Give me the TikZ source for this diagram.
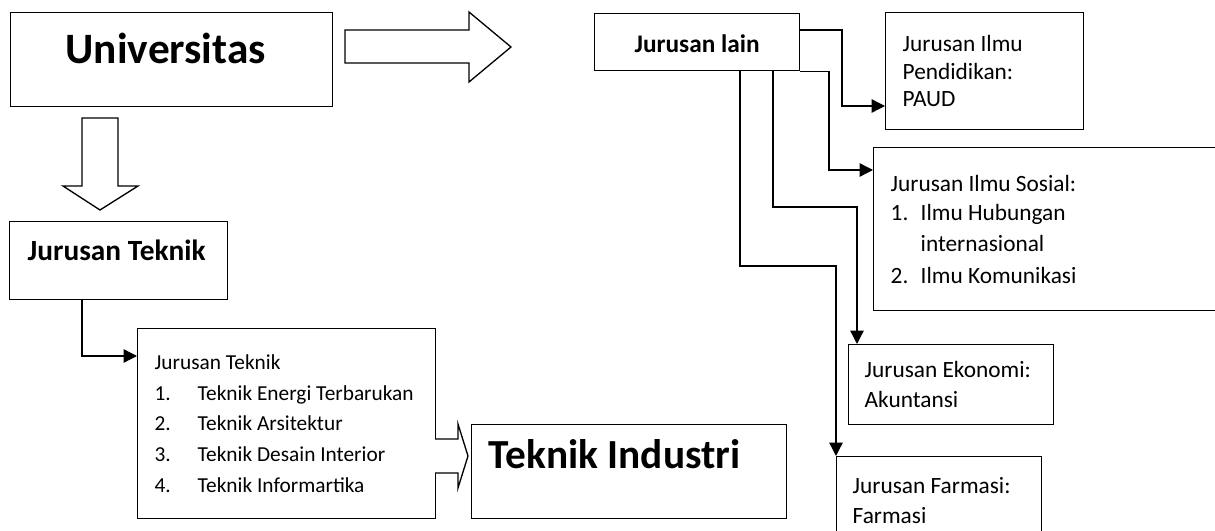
\documentclass[tikz,border=0pt]{standalone}
\usepackage{fontspec}
\setmainfont{Carlito}
\usetikzlibrary{arrows.meta,positioning}

\begin{document}
\begin{tikzpicture}[
  x=0.75pt, y=-0.75pt,
  box/.style={draw, line width=1pt, anchor=north west, inner sep=0pt, align=flush left},
  txt/.style={font=\fontsize{17.5}{20.6}\selectfont},
  arr/.style={-{Triangle[length=10pt,width=10pt]}, line width=1pt},
  blockarr/.style={draw, line width=1pt, fill=white, line join=miter}
]
  \useasboundingbox (0,0) rectangle (1215,531);

  % left side
  \node[box, minimum width=241.5pt, minimum height=70.5pt, inner xsep=41.25pt, text width=159pt,
        text height=24pt, text depth=18pt, font=\fontsize{32.5}{36}\selectfont\bfseries] (uni) at (10,12) {Universitas};
  \node[box, minimum width=163.5pt, minimum height=58.5pt, inner xsep=13.5pt, text width=136.5pt,
        text height=15pt, text depth=15pt, font=\fontsize{22}{26}\selectfont\bfseries] (teknik) at (9,221) {Jurusan Teknik};
  \node[box, minimum width=223.5pt, minimum height=142.5pt, inner xsep=12.75pt, text width=198pt,
        font=\fontsize{16}{23}\selectfont] (list) at (137,328)
    {Jurusan Teknik\\
     \makebox[32.25pt][l]{1.}Teknik Energi Terbarukan\\
     \makebox[32.25pt][l]{2.}Teknik Arsitektur\\
     \makebox[32.25pt][l]{3.}Teknik Desain Interior\\
     \makebox[32.25pt][l]{4.}Teknik Informartika};
  \node[box, minimum width=236.25pt, minimum height=70.5pt, inner xsep=12.75pt, text width=210.75pt,
        text height=15pt, text depth=19.5pt, font=\fontsize{31}{36}\selectfont\bfseries] (industri) at (471,424) {Teknik Industri};

  % right side
  \node[box, minimum width=153.75pt, minimum height=42.75pt, align=center,
        text height=15.5pt, text depth=0pt, font=\fontsize{19}{22}\selectfont\bfseries] (lain) at (594,13) {Jurusan lain};
  \node[box, txt, minimum width=148.5pt, minimum height=87.75pt, inner xsep=12.75pt, text width=123pt] (paud) at (885,12)
    {Jurusan Ilmu\\Pendidikan:\\PAUD};
  \node[box, txt, minimum width=262.5pt, minimum height=122.25pt, inner xsep=12.75pt, text width=237pt] (sosial) at (873,147)
    {Jurusan Ilmu Sosial:\\[1pt]
     \makebox[22.5pt][l]{1.}Ilmu Hubungan\\[3pt]
     \hspace*{22.5pt}internasional\\[3pt]
     \makebox[22.5pt][l]{2.}Ilmu Komunikasi};
  \node[box, txt, minimum width=153.75pt, minimum height=60pt, inner xsep=12pt, text width=129.75pt,
        font=\fontsize{17.5}{22.5}\selectfont] (ekonomi) at (848,344)
    {Jurusan Ekonomi:\\Akuntansi};
  \node[box, txt, minimum width=153.75pt, minimum height=66pt, inner xsep=12pt, text width=129.75pt,
        font=\fontsize{17.5}{23}\selectfont] (farmasi) at (836,456)
    {Jurusan Farmasi:\\Farmasi};

  % block arrows
  \draw[blockarr] (345,30) -- (469,30) -- (469,12) -- (511,47) -- (469,82) -- (469,63) -- (345,63) -- cycle;
  \draw[blockarr] (82,118) -- (118,118) -- (118,186) -- (138,186) -- (100,210) -- (63,186) -- (82,186) -- cycle;
  \draw[blockarr] (435,439) -- (458,439) -- (458,424) -- (468,456) -- (458,488) -- (458,473) -- (435,473);

  % connectors
  \draw[arr] (teknik.south -| 82,0) |- (list.west |- 0,356);
  \draw[arr] (lain.east |- 0,30) -| (842,106) -- (paud.west |- 0,106);
  \draw[arr] (lain.south east) -| (829,170) -- (sosial.west |- 0,170);
  \draw[arr] (lain.south -| 773,0) |- (857,207) -- (ekonomi.north -| 857,0);
  \draw[arr] (lain.south -| 740,0) |- (836,266) -- (farmasi.north west);
\end{tikzpicture}
\end{document}
